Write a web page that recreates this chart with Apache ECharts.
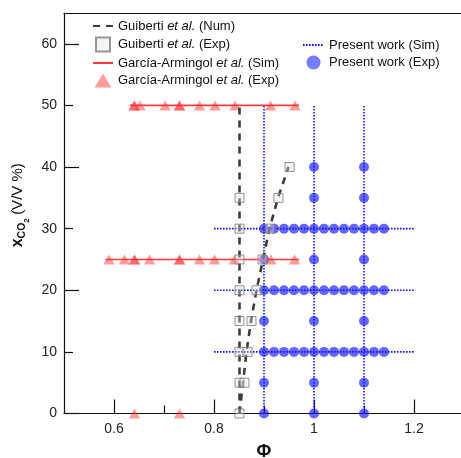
<!DOCTYPE html>
<html>
<head>
<meta charset="utf-8">
<script src="https://cdn.jsdelivr.net/npm/echarts@6/dist/echarts.min.js"></script>
<style>html,body{margin:0;padding:0;background:#fff;}#c{width:461px;height:458px;}</style>
</head>
<body>
<div id="c"></div>
<script>
// ---- data ----
const xTickLabels = [0.6, 0.8, 1.0, 1.2];
const xMinorTicks = [0.7, 0.9, 1.1];
const yTickLabels = [0, 10, 20, 30, 40, 50, 60];
const yMajorTicks = [0, 20, 40, 60];
const yMinorTicks = [10, 30, 50];

// Guiberti et al. (Num) : two dashed curves
const guibertiNumVertical = [[0.851, 0], [0.851, 50]];
const guibertiNumCurve = [[0.851, 0], [0.858, 5], [0.865, 10], [0.874, 15], [0.885, 20], [0.898, 25], [0.911, 30], [0.928, 35], [0.949, 40]];
// Guiberti et al. (Exp)
const guibertiExp = [
  [0.851, 0], [0.851, 5], [0.851, 10], [0.851, 15], [0.851, 20], [0.851, 25], [0.851, 30], [0.851, 35],
  [0.861, 5], [0.867, 10], [0.875, 15], [0.885, 20], [0.897, 25], [0.912, 30], [0.929, 35], [0.951, 40]
];
// García-Armingol et al. (Sim)
const garciaSim50 = [[0.632, 50], [0.97, 50]];
const garciaSim25 = [[0.583, 25], [0.97, 25]];
// García-Armingol et al. (Exp)
const garciaExp = [
  [0.640, 50], [0.641, 50], [0.652, 50], [0.702, 50], [0.731, 50], [0.731, 50], [0.771, 50], [0.802, 50], [0.842, 50], [0.913, 50], [0.962, 50],
  [0.590, 25], [0.621, 25], [0.641, 25], [0.641, 25], [0.671, 25], [0.731, 25], [0.731, 25], [0.771, 25], [0.801, 25], [0.841, 25], [0.914, 25], [0.961, 25],
  [0.641, 0], [0.731, 0]
];
// Present work (Sim): dotted grid lines
const presentSimPhi = [0.9, 1.0, 1.1];       // vertical lines
const presentSimPhiRange = [0, 50];          // xCO2 span of vertical lines
const presentSimX = [10, 20, 30];            // horizontal lines
const presentSimXRange = [0.8, 1.2];         // phi span of horizontal lines
// Present work (Exp)
const presentExpCol090 = [0, 5, 10, 15, 20, 25, 30];
const presentExpCol100 = [0, 5, 10, 15, 20, 25, 30, 35, 40];
const presentExpCol110 = [0, 5, 10, 15, 20, 25, 30, 35, 40];
const presentExpRowX = [10, 20, 30];
const presentExpRowPhi = [0.92, 0.94, 0.96, 0.98, 1.02, 1.04, 1.06, 1.08, 1.12, 1.14];

// ---- build ----
const FONT = "'Liberation Sans', Arial, sans-serif";
const presentExp = [];
presentExpCol090.forEach(v => presentExp.push([0.9, v]));
presentExpCol100.forEach(v => presentExp.push([1.0, v]));
presentExpCol110.forEach(v => presentExp.push([1.1, v]));
presentExpRowX.forEach(v => presentExpRowPhi.forEach(p => presentExp.push([p, v])));

const series = [];
const simLine = { color: '#1010ff', width: 1.6, type: [1.6, 1.4] };
presentSimPhi.forEach(p => series.push({
  name: 'Present work (Sim)', type: 'line', symbol: 'none', z: 1,
  data: [[p, presentSimPhiRange[0]], [p, presentSimPhiRange[1]]],
  lineStyle: simLine, itemStyle: { color: '#1010ff' }
}));
presentSimX.forEach(v => series.push({
  name: 'Present work (Sim)', type: 'line', symbol: 'none', z: 1,
  data: [[presentSimXRange[0], v], [presentSimXRange[1], v]],
  lineStyle: simLine, itemStyle: { color: '#1010ff' }
}));
series.push({
  name: 'Present work (Exp)', type: 'scatter', symbol: 'circle', symbolSize: 10, z: 2,
  data: presentExp, itemStyle: { color: 'rgba(25,25,255,0.84)' }
});
[garciaSim50, garciaSim25].forEach(d => series.push({
  name: 'García-Armingol et al. (Sim)', type: 'line', symbol: 'none', z: 3,
  data: d, lineStyle: { color: '#ff3a3a', width: 1.6 }, itemStyle: { color: '#ff3a3a' }
}));
series.push({
  name: 'García-Armingol et al. (Exp)', type: 'scatter', symbol: 'triangle', symbolSize: [11.5, 10], z: 4,
  data: garciaExp, itemStyle: { color: 'rgba(255,50,50,0.6)' }
});
[guibertiNumVertical, guibertiNumCurve].forEach(d => series.push({
  name: 'Guiberti et al. (Num)', type: 'line', symbol: 'none', z: 5, smooth: false,
  data: d, lineStyle: { color: '#3c3c3c', width: 2.6, type: [7, 6] }, itemStyle: { color: '#3c3c3c' }
}));
series.push({
  name: 'Guiberti et al. (Exp)', type: 'scatter', symbol: 'rect', symbolSize: 9, z: 6,
  data: guibertiExp, itemStyle: { color: 'rgba(228,228,228,0.45)', borderColor: '#7a7a7a', borderWidth: 1 }
});

function legendFmt(name) {
  return name.replace('et al.', '{i|et al.}');
}
const legendText = {
  fontFamily: FONT, fontSize: 13, color: '#111',
  rich: { i: { fontFamily: FONT, fontSize: 13, fontStyle: 'italic', color: '#111' } }
};
const hiddenSymbol = { color: 'rgba(0,0,0,0)', borderColor: 'rgba(0,0,0,0)', borderWidth: 0 };

const chart = echarts.init(document.getElementById('c'), null, { renderer: 'canvas' });
chart.setOption({
  animation: false,
  backgroundColor: '#fff',
  grid: { left: 64, top: 13, width: 400, height: 400.5, containLabel: false, outerBoundsMode: 'none' },
  legend: [
    {
      left: 92, top: 19.5, orient: 'vertical', padding: 0, itemGap: 4,
      itemWidth: 20, itemHeight: 14, symbolKeepAspect: true,
      data: [
        { name: 'Guiberti et al. (Num)', itemStyle: hiddenSymbol },
        { name: 'Guiberti et al. (Exp)', icon: 'path://M0,0H12V12H0Z' },
        { name: 'García-Armingol et al. (Sim)', itemStyle: hiddenSymbol },
        { name: 'García-Armingol et al. (Exp)', icon: 'path://M6,0L12,10H0Z' }
      ],
      formatter: legendFmt, textStyle: legendText
    },
    {
      left: 302, top: 38.5, orient: 'vertical', padding: 0, itemGap: 4,
      itemWidth: 21, itemHeight: 14, symbolKeepAspect: true,
      data: [
        { name: 'Present work (Sim)', itemStyle: hiddenSymbol },
        { name: 'Present work (Exp)', icon: 'circle', itemStyle: { color: 'rgba(25,25,255,0.72)' } }
      ],
      formatter: legendFmt, textStyle: legendText
    }
  ],
  xAxis: [
    {
      type: 'value', min: 0.5, max: 1.3, interval: 0.1, position: 'bottom',
      name: 'Φ', nameLocation: 'middle', nameGap: 30,
      nameTextStyle: { fontFamily: FONT, fontSize: 18, fontWeight: 'bold', color: '#111' },
      axisLine: { show: true, onZero: false, lineStyle: { color: '#111', width: 1.2 } },
      axisTick: { show: true, inside: true, length: 14, customValues: xTickLabels, lineStyle: { color: '#111', width: 1.2 } },
      axisLabel: { show: true, customValues: xTickLabels, margin: 9, fontFamily: FONT, fontSize: 14, color: '#222',
        formatter: v => String(Math.round(v * 10) / 10) },
      splitLine: { show: false }
    },
    {
      type: 'value', min: 0.5, max: 1.3, interval: 0.1, position: 'bottom',
      axisLine: { show: false, onZero: false },
      axisTick: { show: true, inside: true, length: 8, customValues: xMinorTicks, lineStyle: { color: '#111', width: 1.2 } },
      axisLabel: { show: false }, splitLine: { show: false }
    },
    {
      type: 'value', min: 0.5, max: 1.3, position: 'top',
      axisLine: { show: true, onZero: false, lineStyle: { color: '#111', width: 1.2 } },
      axisTick: { show: false }, axisLabel: { show: false }, splitLine: { show: false }
    }
  ],
  yAxis: [
    {
      type: 'value', min: 0, max: 65, interval: 10, position: 'left',
      name: '{x|x}{co|CO}{s|2} {p|(V/V %)}', nameLocation: 'middle', nameGap: 36, nameRotate: 90,
      nameTextStyle: {
        padding: [0, 0, 0, 16],
        rich: {
          x: { fontFamily: FONT, fontSize: 16, fontWeight: 'bold', color: '#111' },
          co: { fontFamily: FONT, fontSize: 10.5, fontWeight: 'bold', color: '#111', verticalAlign: 'bottom', padding: [0, 0, -2, 0] },
          s: { fontFamily: FONT, fontSize: 8, fontWeight: 'bold', color: '#111', verticalAlign: 'bottom', padding: [0, 0, -5, 0] },
          p: { fontFamily: FONT, fontSize: 15, color: '#111' }
        }
      },
      axisLine: { show: true, onZero: false, lineStyle: { color: '#111', width: 1.2 } },
      axisTick: { show: true, inside: true, length: 15, customValues: yMajorTicks, lineStyle: { color: '#111', width: 1.2 } },
      axisLabel: { show: true, customValues: yTickLabels, margin: 7, fontFamily: FONT, fontSize: 14, color: '#222' },
      splitLine: { show: false }
    },
    {
      type: 'value', min: 0, max: 65, interval: 10, position: 'left',
      axisLine: { show: false, onZero: false },
      axisTick: { show: true, inside: true, length: 9, customValues: yMinorTicks, lineStyle: { color: '#111', width: 1.2 } },
      axisLabel: { show: false }, splitLine: { show: false }
    }
  ],
  series: series
});
</script>
</body>
</html>
